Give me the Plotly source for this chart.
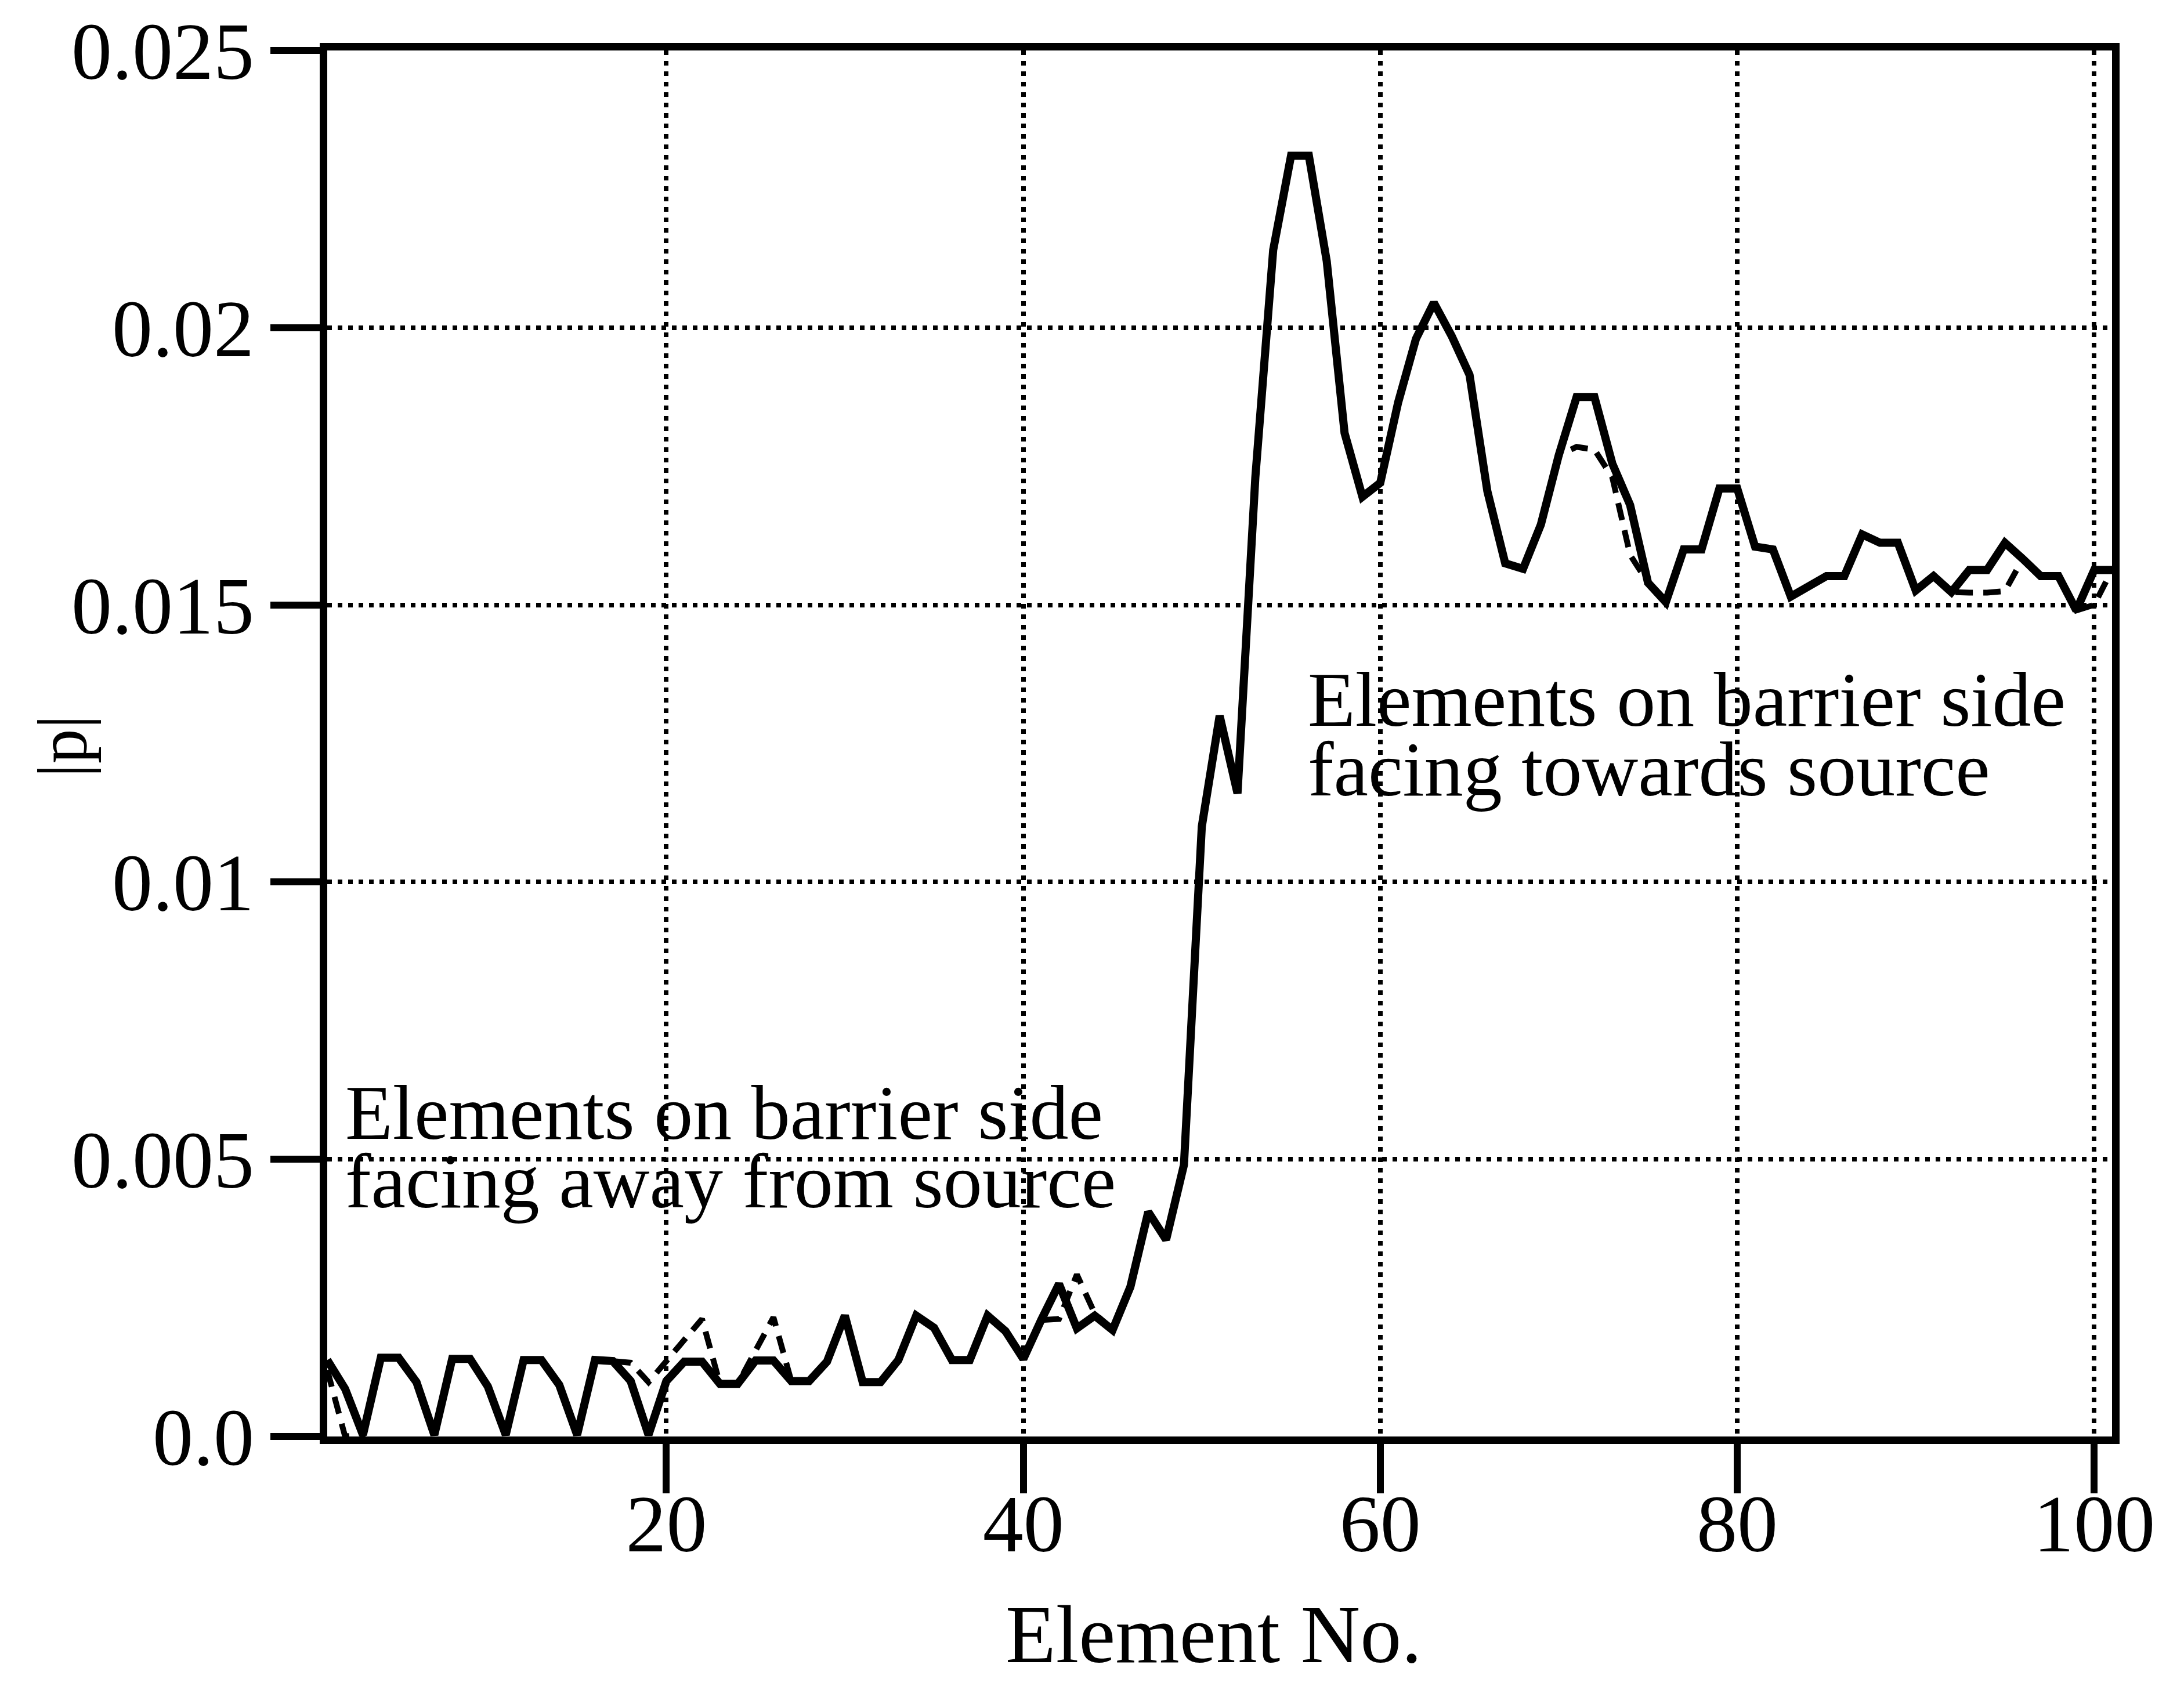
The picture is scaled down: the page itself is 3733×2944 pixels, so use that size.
import plotly.graph_objects as go

# Element numbers along the barrier
elements = list(range(1, 102))

# |p| on each element, solid curve
p_solid = [
    0.00138, 0.00086, 0.00003, 0.00142, 0.00142, 0.00098, 0.00003, 0.00140, 0.00140, 0.00090,
    0.00003, 0.00138, 0.00138, 0.00093, 0.00003, 0.00138, 0.00136, 0.00100, 0.00003, 0.00100,
    0.00135, 0.00135, 0.00095, 0.00095, 0.00137, 0.00137, 0.00100, 0.00100, 0.00135, 0.00218,
    0.00098, 0.00098, 0.00138, 0.00218, 0.00196, 0.00138, 0.00138, 0.00218, 0.00190, 0.00140,
    0.00210, 0.00275, 0.00195, 0.00218, 0.00192, 0.00270, 0.00405, 0.00355, 0.00490, 0.01100,
    0.01300, 0.01160, 0.01730, 0.02140, 0.02310, 0.02310, 0.02120, 0.01810, 0.01695, 0.01720,
    0.01865, 0.01980, 0.02045, 0.01985, 0.01915, 0.01705, 0.01575, 0.01565, 0.01645, 0.01770,
    0.01875, 0.01875, 0.01755, 0.01680, 0.01540, 0.01505, 0.01600, 0.01600, 0.01710, 0.01710,
    0.01605, 0.01600, 0.01515, 0.01532, 0.01552, 0.01552, 0.01627, 0.01612, 0.01612, 0.01526,
    0.01552, 0.01523, 0.01563, 0.01563, 0.01612, 0.01583, 0.01552, 0.01552, 0.01490, 0.01563,
    0.01563,
]

# |p| on each element, dashed curve
p_dashed = [
    0.00120, 0.00000, 0.00003, 0.00142, 0.00142, 0.00098, 0.00003, 0.00140, 0.00140, 0.00090,
    0.00003, 0.00138, 0.00138, 0.00093, 0.00003, 0.00138, 0.00136, 0.00133, 0.00098, 0.00135,
    0.00172, 0.00212, 0.00095, 0.00095, 0.00155, 0.00215, 0.00100, 0.00100, 0.00135, 0.00218,
    0.00098, 0.00098, 0.00138, 0.00218, 0.00196, 0.00138, 0.00138, 0.00218, 0.00190, 0.00140,
    0.00210, 0.00212, 0.00292, 0.00222, 0.00192, 0.00270, 0.00405, 0.00355, 0.00490, 0.01100,
    0.01300, 0.01160, 0.01730, 0.02140, 0.02310, 0.02310, 0.02120, 0.01810, 0.01695, 0.01720,
    0.01865, 0.01980, 0.02045, 0.01985, 0.01915, 0.01705, 0.01575, 0.01565, 0.01645, 0.01770,
    0.01785, 0.01780, 0.01730, 0.01590, 0.01540, 0.01505, 0.01600, 0.01600, 0.01710, 0.01710,
    0.01605, 0.01600, 0.01515, 0.01532, 0.01552, 0.01552, 0.01627, 0.01612, 0.01612, 0.01526,
    0.01552, 0.01523, 0.01522, 0.01522, 0.01525, 0.01583, 0.01552, 0.01552, 0.01490, 0.01500,
    0.01563,
]

x_ticks = [20, 40, 60, 80, 100]
y_ticks = [0.0, 0.005, 0.01, 0.015, 0.02, 0.025]
y_tick_text = ["0.0", "0.005", "0.01", "0.015", "0.02", "0.025"]

FONT = "Liberation Serif"
INK = "black"

fig = go.Figure()

fig.add_trace(go.Scatter(
    x=elements, y=p_dashed, mode="lines",
    line=dict(color=INK, width=10, dash="30px,18px"),
    showlegend=False, hoverinfo="skip",
))
fig.add_trace(go.Scatter(
    x=elements, y=p_solid, mode="lines",
    line=dict(color=INK, width=14),
    showlegend=False, hoverinfo="skip",
))

axis_common = dict(
    showline=True, linecolor=INK, linewidth=13, mirror=True,
    ticks="outside", ticklen=85, tickwidth=12, tickcolor=INK,
    showgrid=True, gridcolor=INK, gridwidth=8, griddash="8px,10px",
    zeroline=False,
    tickfont=dict(family=FONT, size=140, color=INK),
)

fig.update_xaxes(range=[1, 101], tickvals=x_ticks, ticklabelstandoff=-68, **axis_common)
fig.update_yaxes(range=[0, 0.025], tickvals=y_ticks, ticktext=y_tick_text, **axis_common)

notes = [
    ("Elements on barrier side", 0.5488, 0.013290),
    ("facing towards source", 0.5488, 0.012034),
    ("Elements on barrier side", 0.0094, 0.005840),
    ("facing away from source", 0.0094, 0.004600),
]
annotations = []
for text, xp, yv in notes:
    annotations.append(dict(
        text=text, xref="paper", yref="y", x=xp, y=yv,
        xanchor="left", yanchor="middle", showarrow=False,
        font=dict(family=FONT, size=134, color=INK),
    ))

# axis titles
annotations.append(dict(
    text="Element No.", xref="paper", yref="paper", x=0.4967, y=-0.1427,
    xanchor="center", yanchor="middle", showarrow=False,
    font=dict(family=FONT, size=142, color=INK),
))
annotations.append(dict(
    text="|p|", xref="paper", yref="paper", x=-0.1486, y=0.498,
    xanchor="center", yanchor="middle", showarrow=False, textangle=-90,
    font=dict(family=FONT, size=120, color=INK),
))

fig.update_layout(
    width=3733, height=2944, autosize=False,
    margin=dict(l=564, r=93, t=87, b=468),
    paper_bgcolor="white", plot_bgcolor="white",
    annotations=annotations,
)

fig.write_html("out.html")
